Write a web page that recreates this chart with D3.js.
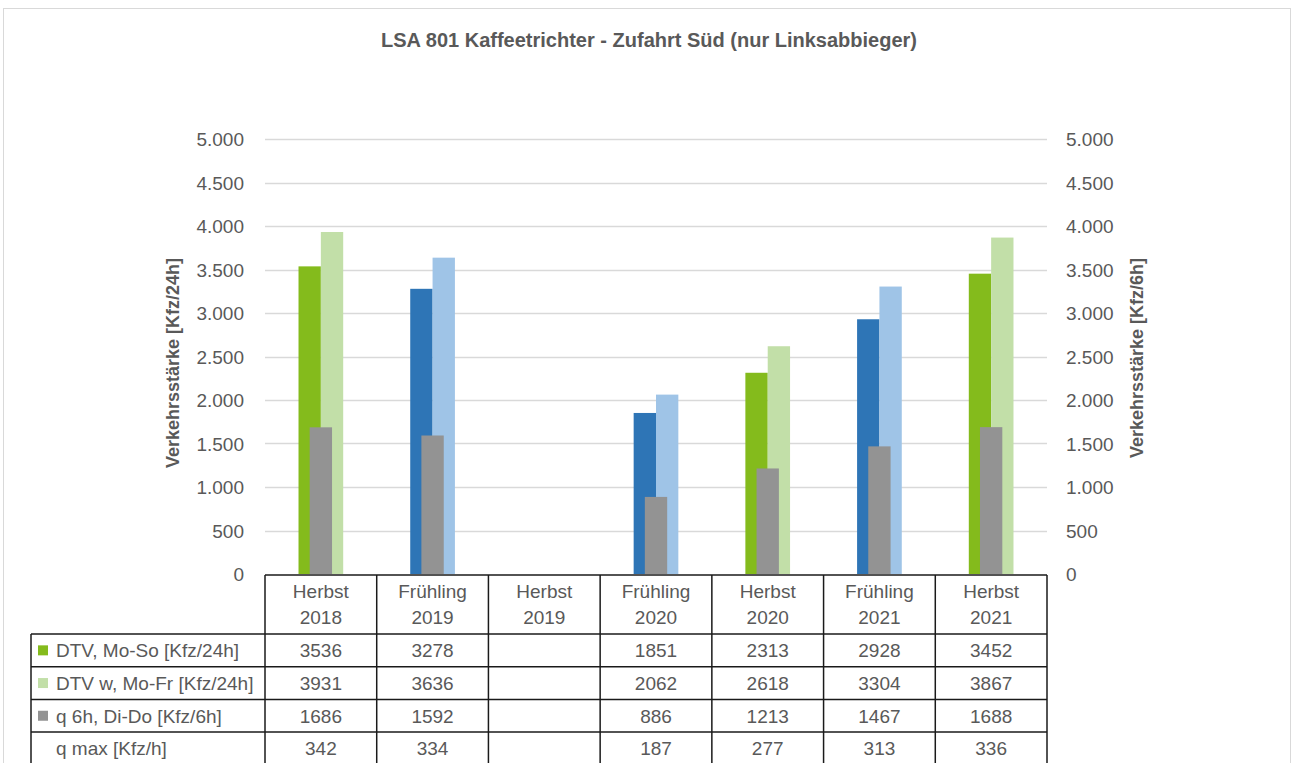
<!DOCTYPE html>
<html>
<head>
<meta charset="utf-8">
<script src="https://d3js.org/d3.v7.min.js"></script>
<style>
body { margin: 0; background: #fff; }
svg { display: block; font-family: "Liberation Sans", Arial, sans-serif; }
.tick-label { fill: #595959; font-size: 19px; }
.cell-text { fill: #595959; font-size: 19px; }
</style>
</head>
<body>
<script>
// data
var seasons = ["Herbst", "Frühling", "Herbst", "Frühling", "Herbst", "Frühling", "Herbst"];
var years = ["2018", "2019", "2019", "2020", "2020", "2021", "2021"];
var dtv = [3536, 3278, null, 1851, 2313, 2928, 3452];
var dtvW = [3931, 3636, null, 2062, 2618, 3304, 3867];
var q6h = [1686, 1592, null, 886, 1213, 1467, 1688];
var qmax = [342, 334, null, 187, 277, 313, 336];
var rowLabels = ["DTV, Mo-So [Kfz/24h]", "DTV w, Mo-Fr [Kfz/24h]", "q 6h, Di-Do [Kfz/6h]", "q max [Kfz/h]"];
var yTicks = [0, 500, 1000, 1500, 2000, 2500, 3000, 3500, 4000, 4500, 5000];

var colors = {
  Herbst: { dark: "#84bb1c", light: "#c2dfa8" },
  "Frühling": { dark: "#2e75b6", light: "#9fc4e7" }
};
var grey = "#939393";

var W = 1296, H = 763;
var plot = { left: 265, right: 1047, top: 139, bottom: 574 };

var svg = d3.select("body").append("svg")
    .attr("width", W)
    .attr("height", H);

// outer chart frame
svg.append("rect")
    .attr("x", 3.5).attr("y", 8.5)
    .attr("width", 1287).attr("height", 800)
    .attr("fill", "#fff")
    .attr("stroke", "#d9d9d9");

svg.append("text")
    .attr("x", 649).attr("y", 47)
    .attr("text-anchor", "middle")
    .style("font-size", "20px")
    .style("font-weight", "bold")
    .style("fill", "#595959")
    .text("LSA 801 Kaffeetrichter - Zufahrt Süd (nur Linksabbieger)");

var x = d3.scaleBand()
    .domain(d3.range(seasons.length))
    .range([plot.left, plot.right])
    .padding(0);

var y = d3.scaleLinear().domain([0, 5000]).range([plot.bottom, plot.top]);
var y2 = d3.scaleLinear().domain([0, 5000]).range([plot.bottom, plot.top]);

var fmt = function(v) { return d3.format(",")(v).replace(/,/g, "."); };

// gridlines
svg.append("g").selectAll("line")
    .data(yTicks.filter(function(d) { return d > 0; }))
  .enter().append("line")
    .attr("x1", plot.left).attr("x2", plot.right)
    .attr("y1", function(d) { return Math.round(y(d)) + 0.5; })
    .attr("y2", function(d) { return Math.round(y(d)) + 0.5; })
    .attr("stroke", "#d9d9d9")
    .attr("stroke-width", 1.3);

// left axis labels
svg.append("g").selectAll("text")
    .data(yTicks)
  .enter().append("text")
    .attr("class", "tick-label")
    .attr("x", 244)
    .attr("y", function(d) { return y(d) + 7; })
    .attr("text-anchor", "end")
    .text(fmt);

// right axis labels
svg.append("g").selectAll("text")
    .data(yTicks)
  .enter().append("text")
    .attr("class", "tick-label")
    .attr("x", 1066)
    .attr("y", function(d) { return y2(d) + 7; })
    .text(fmt);

svg.append("text")
    .attr("transform", "translate(179,363) rotate(-90)")
    .attr("text-anchor", "middle")
    .style("font-size", "18px")
    .style("font-weight", "bold")
    .style("fill", "#595959")
    .text("Verkehrsstärke [Kfz/24h]");

svg.append("text")
    .attr("transform", "translate(1143,358) rotate(-90)")
    .attr("text-anchor", "middle")
    .style("font-size", "18px")
    .style("font-weight", "bold")
    .style("fill", "#595959")
    .text("Verkehrsstärke [Kfz/6h]");

// bars
var bw = x.bandwidth() * 0.2;
var idx = d3.range(seasons.length);
var bars = svg.append("g");

bars.selectAll(".dtv")
    .data(idx.filter(function(i) { return dtv[i] != null; }))
  .enter().append("rect")
    .attr("class", "dtv")
    .attr("x", function(i) { return x(i) + x.bandwidth() / 2 - bw; })
    .attr("width", bw)
    .attr("y", function(i) { return y(dtv[i]); })
    .attr("height", function(i) { return y(0) - y(dtv[i]); })
    .attr("fill", function(i) { return colors[seasons[i]].dark; });

bars.selectAll(".dtvw")
    .data(idx.filter(function(i) { return dtvW[i] != null; }))
  .enter().append("rect")
    .attr("class", "dtvw")
    .attr("x", function(i) { return x(i) + x.bandwidth() / 2; })
    .attr("width", bw)
    .attr("y", function(i) { return y(dtvW[i]); })
    .attr("height", function(i) { return y(0) - y(dtvW[i]); })
    .attr("fill", function(i) { return colors[seasons[i]].light; });

bars.selectAll(".q6h")
    .data(idx.filter(function(i) { return q6h[i] != null; }))
  .enter().append("rect")
    .attr("class", "q6h")
    .attr("x", function(i) { return x(i) + x.bandwidth() / 2 - bw / 2; })
    .attr("width", bw)
    .attr("y", function(i) { return y2(q6h[i]); })
    .attr("height", function(i) { return y2(0) - y2(q6h[i]); })
    .attr("fill", grey);

// data table
var headTop = plot.bottom + 1, headBottom = 634;
var rowH = 32.7;
var rowsY = d3.range(rowLabels.length + 1).map(function(k) { return headBottom + k * rowH; });
var legendLeft = 31;
var tbl = svg.append("g")
    .attr("stroke", "#1a1a1a")
    .attr("stroke-width", 1.5)
    .attr("fill", "none");

tbl.append("line")
    .attr("x1", plot.left).attr("x2", plot.right)
    .attr("y1", headTop).attr("y2", headTop);
rowsY.forEach(function(yy) {
  tbl.append("line")
      .attr("x1", legendLeft).attr("x2", plot.right)
      .attr("y1", yy).attr("y2", yy);
});
tbl.append("line")
    .attr("x1", legendLeft).attr("x2", legendLeft)
    .attr("y1", headBottom).attr("y2", rowsY[rowsY.length - 1]);
idx.concat([seasons.length]).forEach(function(i) {
  var xx = i < seasons.length ? x(i) : plot.right;
  tbl.append("line")
      .attr("x1", xx).attr("x2", xx)
      .attr("y1", headTop).attr("y2", rowsY[rowsY.length - 1]);
});

// header labels
idx.forEach(function(i) {
  var cx = x(i) + x.bandwidth() / 2;
  svg.append("text").attr("class", "cell-text")
      .attr("x", cx).attr("y", 598)
      .attr("text-anchor", "middle").text(seasons[i]);
  svg.append("text").attr("class", "cell-text")
      .attr("x", cx).attr("y", 623.5)
      .attr("text-anchor", "middle").text(years[i]);
});

// rows
var rowData = [dtv, dtvW, q6h, qmax];
var keyColors = [colors.Herbst.dark, colors.Herbst.light, grey, null];
rowData.forEach(function(arr, r) {
  var cy = rowsY[r] + rowH / 2;
  if (keyColors[r]) {
    svg.append("rect")
        .attr("x", 38).attr("y", cy - 5)
        .attr("width", 10).attr("height", 10)
        .attr("fill", keyColors[r]);
  }
  svg.append("text").attr("class", "cell-text")
      .attr("x", 56).attr("y", cy + 7)
      .text(rowLabels[r]);
  idx.forEach(function(i) {
    if (arr[i] == null) return;
    svg.append("text").attr("class", "cell-text")
        .attr("x", x(i) + x.bandwidth() / 2).attr("y", cy + 7)
        .attr("text-anchor", "middle")
        .text(arr[i]);
  });
});
</script>
</body>
</html>
